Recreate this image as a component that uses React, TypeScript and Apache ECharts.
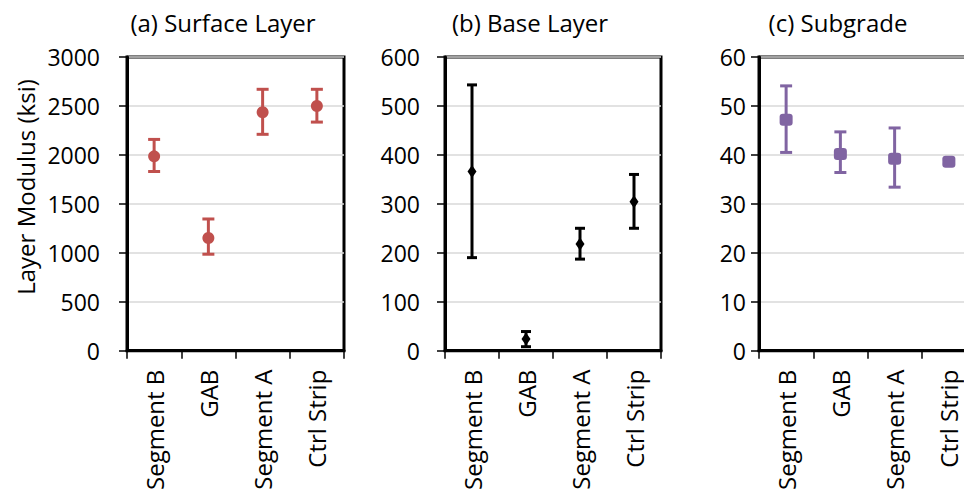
import React, { useEffect, useRef } from "react";
import * as echarts from "echarts";

const categories = ["Segment B", "GAB", "Segment A", "Ctrl Strip"];

const surfaceMean = [1985, 1150, 2435, 2500];
const surfaceLow = [1830, 985, 2210, 2335];
const surfaceHigh = [2158, 1345, 2670, 2670];

const baseMean = [366, 24, 218, 304];
const baseLow = [190, 8, 187, 250];
const baseHigh = [543, 39, 250, 360];

const subMean = [47.2, 40.2, 39.2, 38.6];
const subLow = [40.5, 36.4, 33.4, 38.1];
const subHigh = [54.1, 44.7, 45.5, 39.1];

const titles = ["(a) Surface Layer", "(b) Base Layer", "(c) Subgrade"];
const yMax = [3000, 600, 60];
const yInterval = [500, 100, 10];
const yAxisTitle = "Layer Modulus (ksi)";

const FONT = "Open Sans";

export default function App() {
  const ref = useRef<HTMLDivElement>(null);
  useEffect(() => {
    if (!ref.current) return;
    const chart = echarts.init(ref.current, undefined, { renderer: "svg" });

    const panels = [
      { left: 127, width: 217, mean: surfaceMean, low: surfaceLow, high: surfaceHigh, color: "#c0504d", symbol: "circle", size: 12 as any, cap: 6, margin: 27 },
      { left: 445, width: 216, mean: baseMean, low: baseLow, high: baseHigh, color: "#000000", symbol: "diamond", size: [9, 13] as any, cap: 5, margin: 25 },
      { left: 759, width: 217, mean: subMean, low: subLow, high: subHigh, color: "#8064a2", symbol: "roundRect", size: [13, 12] as any, cap: 6, margin: 13 },
    ];

    const grid = panels.map((p) => ({
      left: p.left,
      top: 57,
      width: p.width,
      height: 295,
      show: true,
      borderColor: "#000",
      borderWidth: 3,
      backgroundColor: "transparent",
    }));

    const xAxis = panels.map((p, i) => ({
      type: "category",
      gridIndex: i,
      data: categories,
      boundaryGap: true,
      axisLine: { show: true, lineStyle: { color: "#000", width: 3 } },
      axisTick: { show: true, length: 8, alignWithLabel: false, lineStyle: { color: "#000", width: 1.5 } },
      axisLabel: {
        rotate: 90,
        margin: 19,
        fontSize: 24,
        fontFamily: FONT,
        color: "#000",
        interval: 0,
      },
    }));

    const yAxis = panels.map((p, i) => ({
      type: "value",
      gridIndex: i,
      min: 0,
      max: yMax[i],
      interval: yInterval[i],
      axisLine: { show: true, lineStyle: { color: "#000", width: 3 } },
      axisTick: { show: true, length: 8, inside: false, lineStyle: { color: "#000", width: 1.5 } },
      splitLine: { show: true, lineStyle: { color: "#d9d9d9", width: 1.5 } },
      axisLabel: {
        fontSize: 23,
        fontFamily: FONT,
        color: "#000",
        margin: p.margin,
        formatter: (v: number) => String(v),
      },
    }));

    const series: any[] = [];
    panels.forEach((p, i) => {
      const errData = categories.map((_, k) => [k, p.low[k], p.high[k]]);
      series.push({
        type: "custom",
        xAxisIndex: i,
        yAxisIndex: i,
        data: errData,
        z: 2,
        renderItem: (params: any, api: any) => {
          const x = api.value(0);
          const lo = api.coord([x, api.value(1)]);
          const hi = api.coord([x, api.value(2)]);
          const style = { stroke: p.color, lineWidth: 3 };
          return {
            type: "group",
            children: [
              { type: "line", shape: { x1: lo[0], y1: lo[1], x2: hi[0], y2: hi[1] }, style },
              { type: "line", shape: { x1: lo[0] - p.cap, y1: lo[1], x2: lo[0] + p.cap, y2: lo[1] }, style },
              { type: "line", shape: { x1: hi[0] - p.cap, y1: hi[1], x2: hi[0] + p.cap, y2: hi[1] }, style },
            ],
          };
        },
      });
      series.push({
        type: "scatter",
        xAxisIndex: i,
        yAxisIndex: i,
        data: categories.map((_, k) => [k, p.mean[k]]),
        symbol: p.symbol,
        symbolSize: p.size,
        itemStyle: { color: p.color, opacity: 1 },
        z: 3,
      });
    });

    const titleX = [223, 530, 838];
    const graphic: any[] = titles.map((t, i) => ({
      type: "text",
      x: titleX[i],
      y: 22,
      style: {
        text: t,
        fontSize: 24,
        fontFamily: FONT,
        fill: "#000",
        textAlign: "center",
        textVerticalAlign: "middle",
      },
    }));
    graphic.push({
      type: "text",
      x: 25,
      y: 187,
      rotation: Math.PI / 2,
      style: {
        text: yAxisTitle,
        fontSize: 24,
        fontFamily: FONT,
        fill: "#000",
        textAlign: "center",
        textVerticalAlign: "middle",
      },
    });

    chart.setOption({
      animation: false,
      backgroundColor: "#fff",
      grid,
      xAxis,
      yAxis,
      series,
      graphic,
    } as any);

    return () => chart.dispose();
  }, []);

  return (
    <div
      style={{
        position: "fixed",
        left: 0,
        top: 0,
        width: 964,
        height: 493,
        overflow: "hidden",
        background: "#fff",
      }}
    >
      <div ref={ref} style={{ width: 990, height: 493 }} />
    </div>
  );
}
